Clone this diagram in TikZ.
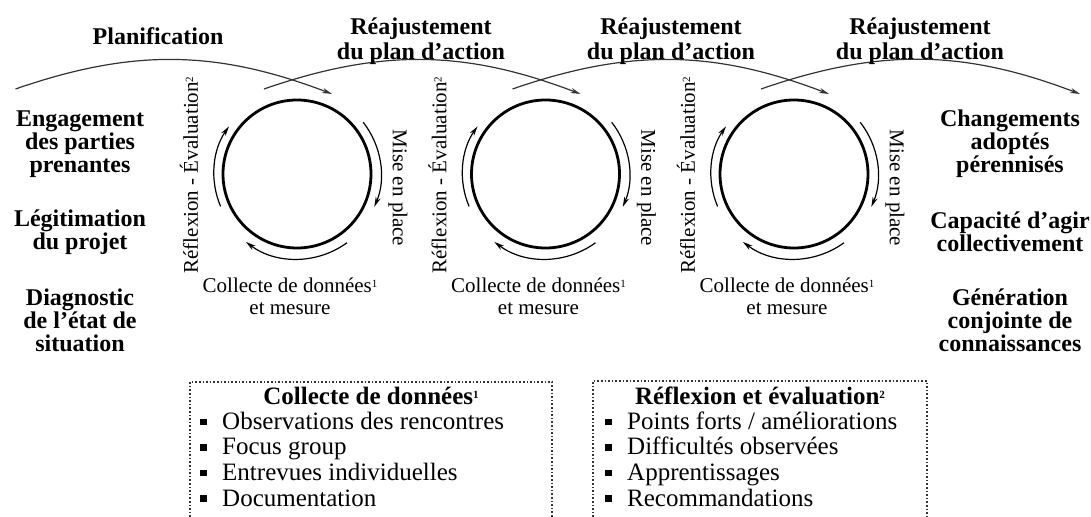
\documentclass[tikz,border=0pt]{standalone}
\usepackage{fontspec}
\setmainfont{Liberation Serif}
\usetikzlibrary{arrows.meta}

% small square bullet for the lists
\newcommand{\puce}{\rule[2pt]{3.4pt}{3.4pt}\hspace{7.5pt}}
% small footnote mark
\newcommand{\renvoi}[1]{\raisebox{0.5ex}{\fontsize{5.5}{6}\selectfont #1}}

\tikzset{
    cycle/.style = {shape = circle, draw, line width = 1.4pt, minimum size = 74pt, inner sep = 0pt},
    turn/.style = {line width = 0.6pt, -{Stealth[length = 5pt, width = 2.6pt]}},
    plan/.style = {line width = 0.6pt, draw = black!80, -{Stealth[length = 5pt, width = 2.6pt]}},
    titre/.style = {align = center, inner sep = 0pt, font = \fontsize{12}{12.5}\selectfont\bfseries},
    bloc/.style = {align = center, inner sep = 0pt, font = \fontsize{12}{11.5}\selectfont\bfseries},
    legende/.style = {align = center, inner sep = 0pt, font = \fontsize{10.5}{11}\selectfont},
    cadre/.style = {densely dotted, line width = 0.8pt, draw = black!80},
    item/.style = {anchor = base west, inner sep = 0pt, font = \fontsize{12.5}{13}\selectfont}
}

\begin{document}
\begin{tikzpicture}[x = 0.5pt, y = 0.5pt]
    \useasboundingbox (0,0) rectangle (1091,-517);

    % the three cycles
    \foreach \i/\x in {1/297, 2/545.5, 3/794}{
        \node [cycle] (c\i) at (\x,-174) {};
        \draw [turn] (c\i.center) ++(38:42pt) arc [start angle = 38, end angle = -23, radius = 42pt];
        \draw [turn] (c\i.center) ++(-54:42.5pt) arc [start angle = -54, end angle = -127, radius = 42.5pt];
        \draw [turn] (c\i.center) ++(203:41.5pt) arc [start angle = 203, end angle = 145, radius = 41.5pt];
        \node [legende, rotate = 90] (ref\i) at ({\x-108},-175) {Réflexion - Évaluation\renvoi{2}};
        \node [legende, rotate = -90] (mise\i) at ({\x+101},-188) {Mise en place};
        \node [legende] (col\i) at ({\x-7},-296) {Collecte de données\renvoi{1}\\et mesure};
    }

    % planning arcs over the cycles
    \foreach \i in {0,...,3}{
        \coordinate (s\i) at ({297+248.5*(\i-1)-33}, -89);
        \coordinate (e\i) at ({297+248.5*\i+35}, -94);
    }
    \coordinate (e3) at (1080,-94);
    \foreach \i in {0,...,3}
        \draw [plan] (s\i) to [bend left = 20] (e\i);

    \node [titre] (plan) at (158,-36) {Planification};
    \node [titre] (reaj1) at (421,-41) {Réajustement\\du plan d'action};
    \node [titre] (reaj2) at (671,-41) {Réajustement\\du plan d'action};
    \node [titre] (reaj3) at (920,-41) {Réajustement\\du plan d'action};

    % before and after
    \node [bloc] (eng) at (80,-144) {Engagement\\des parties\\prenantes};
    \node [bloc] (leg) at (80,-232) {Légitimation\\du projet};
    \node [bloc] (diag) at (80,-320) {Diagnostic\\de l'état de\\situation};
    \node [bloc] (chg) at (1010,-144) {Changements\\adoptés\\pérennisés};
    \node [bloc] (cap) at (1010,-232) {Capacité d'agir\\collectivement};
    \node [bloc] (gen) at (1010,-320) {Génération\\conjointe de\\connaissances};

    % footnote boxes
    \draw [cadre] (190,-517) |- (552,-382) -- (552,-517);
    \node [titre, font = \fontsize{12.5}{13}\selectfont\bfseries] (tcol) at (371,-396) {Collecte de données\renvoi{1}};
    \foreach \t [count = \k] in {Observations des rencontres, Focus group, Entrevues individuelles, Documentation}
        \node [item] (lcol\k) at (200,{-404-25.5*\k}) {\puce\t};

    \draw [cadre] (593,-517) |- (927,-381) -- (927,-517);
    \node [titre, font = \fontsize{12.5}{13}\selectfont\bfseries] (tref) at (760,-396) {Réflexion et évaluation\renvoi{2}};
    \foreach \t [count = \k] in {Points forts / améliorations, Difficultés observées, Apprentissages, Recommandations}
        \node [item] (lref\k) at (605,{-404-25.5*\k}) {\puce\t};
\end{tikzpicture}
\end{document}
